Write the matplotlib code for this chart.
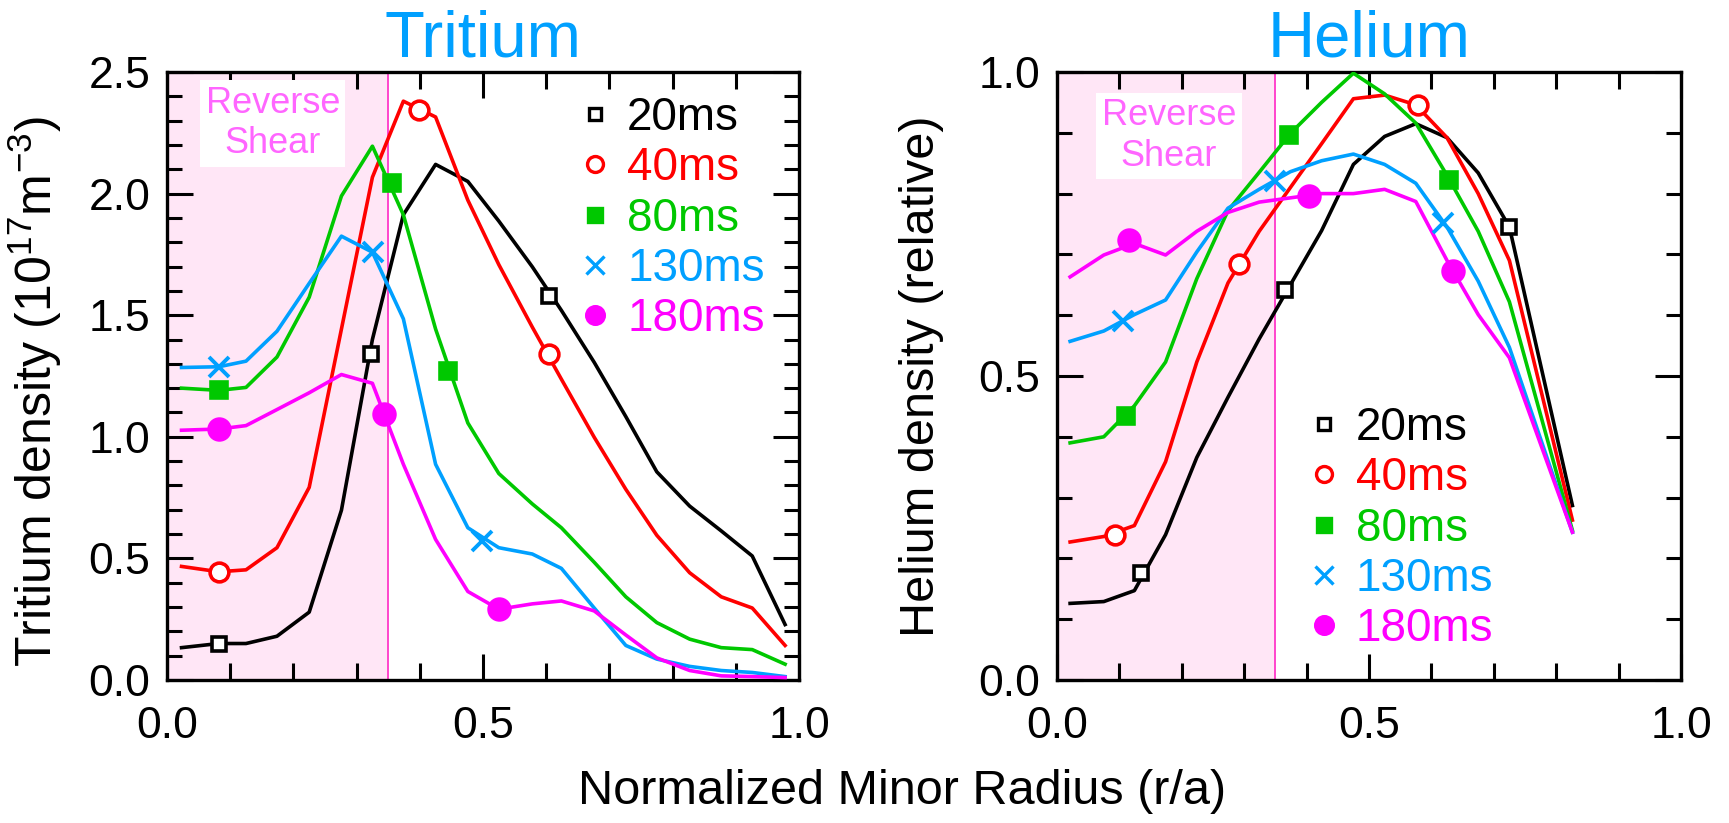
import matplotlib
matplotlib.use('Agg')
import matplotlib.pyplot as plt
from matplotlib.lines import Line2D
from matplotlib.ticker import MultipleLocator, FormatStrFormatter

plt.rcParams['font.family'] = ['Liberation Sans', 'DejaVu Sans']
plt.rcParams['mathtext.fontset'] = 'custom'
plt.rcParams['mathtext.rm'] = 'Liberation Sans'
plt.rcParams['mathtext.it'] = 'Liberation Sans:italic'
plt.rcParams['mathtext.bf'] = 'Liberation Sans:bold'

# ---------------- data ----------------
labels = ['20ms', '40ms', '80ms', '130ms', '180ms']

# Tritium panel (line vertices)
tri_x = [0.023, 0.082, 0.125, 0.174, 0.225, 0.276, 0.325, 0.374, 0.425, 0.476,
         0.525, 0.578, 0.624, 0.676, 0.726, 0.775, 0.827, 0.877, 0.926, 0.978]
tri_20 = [0.133, 0.150, 0.150, 0.180, 0.279, 0.698, 1.400, 1.913, 2.120, 2.050,
          1.887, 1.699, 1.520, 1.306, 1.083, 0.856, 0.715, 0.613, 0.510, 0.228]
tri_40 = [0.467, 0.445, 0.453, 0.544, 0.792, 1.443, 2.067, 2.380, 2.315, 1.973,
          1.708, 1.451, 1.237, 0.998, 0.784, 0.595, 0.441, 0.342, 0.296, 0.142]
tri_80 = [1.200, 1.191, 1.203, 1.328, 1.574, 1.990, 2.195, 1.913, 1.443, 1.057,
          0.849, 0.724, 0.626, 0.484, 0.342, 0.236, 0.168, 0.133, 0.125, 0.065]
tri_130 = [1.285, 1.288, 1.311, 1.434, 1.631, 1.825, 1.759, 1.485, 0.887, 0.626,
           0.544, 0.518, 0.459, 0.296, 0.142, 0.086, 0.056, 0.039, 0.031, 0.014]
tri_180 = [1.027, 1.032, 1.046, 1.112, 1.181, 1.256, 1.220, 0.887, 0.578, 0.364,
           0.291, 0.313, 0.325, 0.284, 0.185, 0.091, 0.039, 0.017, 0.014, 0.010]

# Tritium panel marker positions
tri_mx = [[0.082, 0.322, 0.604], [0.082, 0.399, 0.604], [0.082, 0.356, 0.445],
          [0.082, 0.326, 0.499], [0.082, 0.344, 0.525]]
tri_my = [[0.150, 1.340, 1.579], [0.445, 2.344, 1.340], [1.191, 2.042, 1.271],
          [1.288, 1.759, 0.570], [1.032, 1.095, 0.291]]

# Helium panel (line vertices)
he_x = [0.021, 0.075, 0.124, 0.174, 0.224, 0.274, 0.324, 0.374, 0.424, 0.475,
        0.525, 0.575, 0.625, 0.675, 0.725, 0.826]
he_20 = [0.126, 0.129, 0.147, 0.239, 0.366, 0.465, 0.561, 0.650, 0.739, 0.848,
         0.894, 0.915, 0.892, 0.834, 0.745, 0.287]
he_40 = [0.227, 0.236, 0.254, 0.359, 0.523, 0.653, 0.738, 0.810, 0.882, 0.956,
         0.962, 0.946, 0.892, 0.800, 0.690, 0.263]
he_80 = [0.390, 0.400, 0.451, 0.523, 0.660, 0.772, 0.835, 0.899, 0.950, 0.998,
         0.964, 0.916, 0.830, 0.738, 0.622, 0.246]
he_130 = [0.557, 0.574, 0.601, 0.625, 0.704, 0.776, 0.807, 0.836, 0.854, 0.865,
          0.848, 0.817, 0.745, 0.656, 0.547, 0.243]
he_180 = [0.663, 0.699, 0.718, 0.699, 0.738, 0.769, 0.786, 0.793, 0.800, 0.800,
          0.807, 0.787, 0.690, 0.601, 0.530, 0.243]

he_mx = [[0.134, 0.366, 0.725], [0.093, 0.291, 0.579], [0.111, 0.371, 0.629],
         [0.105, 0.350, 0.618], [0.116, 0.404, 0.634]]
he_my = [[0.176, 0.641, 0.745], [0.239, 0.684, 0.945], [0.435, 0.897, 0.822],
         [0.591, 0.820, 0.752], [0.723, 0.796, 0.673]]

shear_edge = 0.35

# ---------------- style ----------------
colors = ['#000000', '#ff0000', '#00c800', '#00a0ff', '#ff00ff']
markers = ['s', 'o', 's', 'x', 'o']
mfaces = ['white', 'white', '#00c800', '#00a0ff', '#ff00ff']
msizes = [10, 13.5, 12, 15, 15]
title_color = '#00a0ff'
shade_color = '#ffe6f6'
edge_color = '#ff44cc'
rs_color = '#ff66ff'

fig = plt.figure(figsize=(17.29, 8.23), dpi=100)
axL = fig.add_axes([167 / 1729, 143 / 823, 632 / 1729, 608 / 823])
axR = fig.add_axes([1057 / 1729, 143 / 823, 624 / 1729, 608 / 823])


def style_axes(ax, ymax, ymajor):
    ax.set_xlim(0, 1.0)
    ax.set_ylim(0, ymax)
    ax.xaxis.set_major_locator(MultipleLocator(0.5))
    ax.xaxis.set_minor_locator(MultipleLocator(0.1))
    ax.yaxis.set_major_locator(MultipleLocator(ymajor))
    ax.yaxis.set_minor_locator(MultipleLocator(0.1))
    ax.xaxis.set_major_formatter(FormatStrFormatter('%.1f'))
    ax.yaxis.set_major_formatter(FormatStrFormatter('%.1f'))
    ax.tick_params(which='both', direction='in', top=True, right=True, width=2.2,
                   color='black')
    ax.tick_params(which='major', length=19, labelsize=32)
    ax.tick_params(axis='x', which='minor', length=12)
    ax.tick_params(axis='y', which='minor', length=11)
    ax.tick_params(axis='x', which='major', pad=19)
    ax.tick_params(axis='y', which='major', pad=12)
    for sp in ax.spines.values():
        sp.set_linewidth(2.4)
    ax.axvspan(0, shear_edge, color=shade_color, zorder=0, lw=0)
    ax.axvline(shear_edge, color=edge_color, lw=1.4, zorder=1)


def draw_series(ax, x, ys, mxs, mys):
    for i, y in enumerate(ys):
        ax.plot(x, y, color=colors[i], lw=2.6, zorder=3)
        ax.plot(mxs[i], mys[i], linestyle='none', marker=markers[i],
                ms=msizes[i], mfc=mfaces[i], mec=colors[i],
                mew=2.6 if markers[i] != 'x' else 2.8, zorder=4)


def add_legend(ax, anchor):
    handles = [Line2D([], [], linestyle='none', marker=markers[i], ms=msizes[i] * 0.85,
                      mfc=mfaces[i], mec=colors[i], mew=2.4) for i in range(5)]
    ax.legend(handles, labels, loc='upper left', bbox_to_anchor=anchor,
              frameon=False, fontsize=33, labelcolor=colors, handlelength=0.95,
              handletextpad=0.22, labelspacing=0.14, borderpad=0, borderaxespad=0)


style_axes(axL, 2.5, 0.5)
style_axes(axR, 1.0, 0.5)

draw_series(axL, tri_x, [tri_20, tri_40, tri_80, tri_130, tri_180], tri_mx, tri_my)
draw_series(axR, he_x, [he_20, he_40, he_80, he_130, he_180], he_mx, he_my)

add_legend(axL, (0.643, 0.961))
add_legend(axR, (0.393, 0.451))

for ax, (tx, ty) in ((axL, (0.1674, 2.288)), (axR, (0.1795, 0.895))):
    ax.text(tx, ty, 'Reverse\nShear', color=rs_color, fontsize=26, ha='center',
            va='center', linespacing=1.2, zorder=5,
            bbox=dict(boxstyle='square,pad=0.15', fc='white', ec='none'))

axL.set_title('Tritium', color=title_color, fontsize=47, pad=11)
axR.set_title('Helium', color=title_color, fontsize=47, pad=11)

axL.set_ylabel(r'Tritium density (10$^{17}$m$^{-3}$)', fontsize=36)
axR.set_ylabel('Helium density (relative)', fontsize=35)
axL.yaxis.set_label_coords(-0.163, 0.474)
axR.yaxis.set_label_coords(-0.181, 0.50)

fig.text(0.522, 0.038, 'Normalized Minor Radius (r/a)', fontsize=35,
         ha='center', va='center')

fig.savefig('out.png', dpi=100, facecolor='white')
